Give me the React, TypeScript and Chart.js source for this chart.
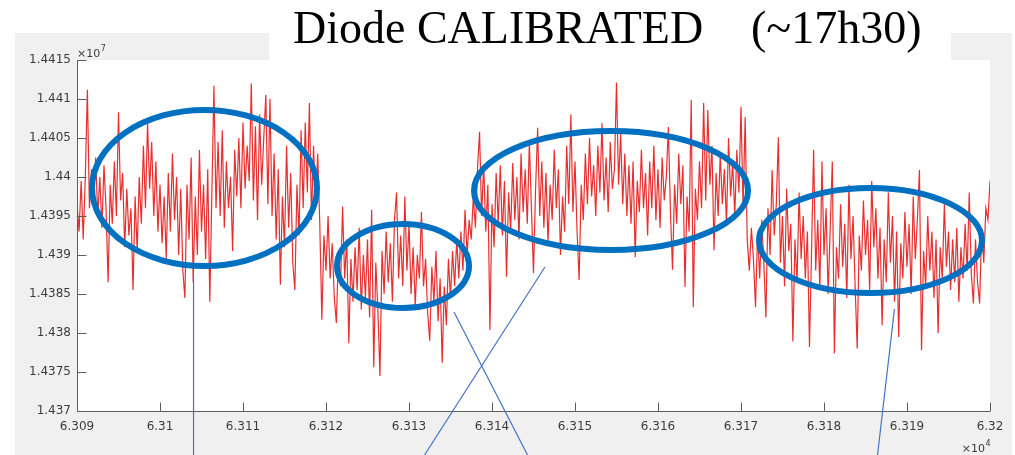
import React, { useEffect, useRef } from 'react';
import { Chart, registerables } from 'chart.js';

Chart.register(...registerables);

// x in units of 10^4, y in units of 10^7 (as on the axes)
const xStart = 6.309;
const xStep = 0.000025;

// first plateau (high level)
const signalA = [
  1.43965, 1.4393, 1.43995, 1.4392, 1.44, 1.44112, 1.4396, 1.4401, 1.43975, 1.44025,
  1.4395, 1.44, 1.43935, 1.44015, 1.4396, 1.43865, 1.4399, 1.4394, 1.4402, 1.4395,
  1.44083, 1.4397, 1.44005, 1.4391, 1.43985, 1.43925, 1.4396, 1.43855, 1.43975, 1.43905,
  1.44, 1.4394, 1.4404, 1.4396, 1.4407, 1.43985, 1.44045, 1.4395, 1.4402, 1.4393,
  1.4399, 1.43915, 1.43975, 1.43895, 1.44005, 1.4393, 1.4403, 1.43945, 1.44, 1.439,
  1.43985, 1.4388, 1.43845, 1.4399, 1.4392, 1.44025, 1.43865, 1.43975, 1.439, 1.44035,
  1.4393, 1.4399, 1.43895, 1.4401, 1.4384, 1.4398, 1.44117, 1.4396, 1.44045, 1.4395,
  1.4406, 1.43935, 1.4402, 1.4396, 1.44, 1.43905, 1.44035, 1.43975, 1.4405, 1.4396,
  1.4407, 1.43985, 1.4404, 1.43995, 1.4412, 1.4397, 1.44065, 1.43945, 1.4408, 1.4399,
  1.4405, 1.44105, 1.43965, 1.441, 1.4395, 1.4403, 1.4392, 1.4401, 1.43862, 1.43975,
  1.4391, 1.4404, 1.43935, 1.44005, 1.4389, 1.43855, 1.4399, 1.43925, 1.4406, 1.4396,
  1.4407, 1.4398, 1.44095, 1.43945, 1.4404, 1.4396, 1.4403,
];

// drop and second plateau (low level)
const signalB = [
  1.4394, 1.43817, 1.43925, 1.4388, 1.4395, 1.4387, 1.43915, 1.43845, 1.43813, 1.43905,
  1.4386, 1.43962, 1.4387, 1.4392, 1.43787, 1.43895, 1.4384, 1.4391, 1.43855, 1.43935,
  1.4383, 1.439, 1.43845, 1.4392, 1.4382, 1.43958, 1.43756, 1.4389, 1.4383, 1.43745,
  1.43905, 1.4385, 1.4393, 1.43865, 1.43915, 1.4384, 1.43945, 1.4398, 1.4387, 1.43925,
  1.4386, 1.43975, 1.4388, 1.4394, 1.4385, 1.4391, 1.43835, 1.439, 1.4387, 1.43955,
  1.4386, 1.43895, 1.43825, 1.4379, 1.43885, 1.4384, 1.43905, 1.43815, 1.4387, 1.43762,
  1.4386, 1.4381, 1.43895, 1.43845, 1.43905, 1.4386, 1.4392, 1.4387, 1.4393, 1.4388,
  1.43958, 1.439, 1.43945,
];

// rise and third plateau (high level)
const signalC = [
  1.4392, 1.43975, 1.43935, 1.4401, 1.44058, 1.4395, 1.44015, 1.4393, 1.4399, 1.43804,
  1.43965, 1.4391, 1.44005, 1.4394, 1.44015, 1.43925, 1.43995, 1.43872, 1.4398, 1.4393,
  1.44018, 1.43945, 1.44, 1.4392, 1.4403, 1.43955, 1.4401, 1.4394, 1.44045, 1.4396,
  1.43877, 1.43985, 1.44063, 1.4395, 1.4402, 1.43935, 1.44005, 1.43915, 1.4399, 1.43945,
  1.44035, 1.4396, 1.4401, 1.439, 1.43975, 1.4393, 1.4404, 1.43965, 1.4408, 1.43955,
  1.4402, 1.4393, 1.43868, 1.4399, 1.43945, 1.4403, 1.43965, 1.4405, 1.43975, 1.44015,
  1.4395, 1.4404, 1.4398, 1.44069, 1.4397, 1.44025, 1.43955, 1.44045, 1.43985, 1.4401,
  1.44121, 1.4399, 1.44055, 1.43965, 1.4403, 1.4395, 1.44015, 1.4394, 1.4402, 1.43897,
  1.43995, 1.43955, 1.44035, 1.4396, 1.44005, 1.43925, 1.4402, 1.4396, 1.4404, 1.43945,
  1.4401, 1.43935, 1.44025, 1.4397, 1.44, 1.44064, 1.43955, 1.43881, 1.4399, 1.4394,
  1.4403, 1.43965, 1.44015, 1.43859, 1.43975, 1.4393, 1.44099, 1.43833, 1.43985, 1.43945,
  1.4402, 1.4396, 1.44095, 1.4397, 1.44086, 1.4399, 1.4404, 1.43906, 1.44005, 1.4395,
  1.4403, 1.43965, 1.4401, 1.4394, 1.4405, 1.43975, 1.4402, 1.4395, 1.44035, 1.4398,
  1.4409, 1.4396,
];

// fourth plateau (low level)
const signalD = [
  1.44077, 1.4392, 1.4388, 1.43935, 1.43895, 1.43833, 1.4393, 1.4387, 1.43945, 1.4389,
  1.4382, 1.4396, 1.439, 1.44009, 1.43925, 1.43965, 1.44051, 1.4389, 1.4395, 1.4386,
  1.43985, 1.43905, 1.4394, 1.43789, 1.4392, 1.43865, 1.4398, 1.43895, 1.4395, 1.4387,
  1.4393, 1.43782, 1.43905, 1.44035, 1.4388, 1.43945, 1.43855, 1.4402, 1.439, 1.4396,
  1.4385, 1.43935, 1.4402, 1.43774, 1.4391, 1.4387, 1.43965, 1.43885, 1.4394, 1.43845,
  1.4399, 1.43895, 1.4395, 1.4386, 1.4378, 1.43925, 1.4388, 1.4397, 1.439, 1.43945,
  1.43855, 1.43995, 1.4391, 1.4396, 1.4387, 1.43935, 1.4381, 1.4392, 1.43865, 1.4398,
  1.4389, 1.4395, 1.4384, 1.4393, 1.43795, 1.43915, 1.4387, 1.43955, 1.43885, 1.4394,
  1.4385, 1.43975, 1.43895, 1.43945, 1.44009, 1.43778, 1.43905, 1.4386, 1.4395, 1.4388,
  1.4393, 1.43845, 1.4392, 1.438, 1.4391, 1.4387, 1.43965, 1.43885, 1.4393, 1.43855,
  1.4392, 1.43865, 1.43935, 1.4384, 1.4391, 1.4387, 1.4394, 1.4388, 1.4398, 1.43875,
  1.43838, 1.4392, 1.43865, 1.43838, 1.43935, 1.4389, 1.4396, 1.43945, 1.43995,
];

const xTickValues = [6.309, 6.31, 6.311, 6.312, 6.313, 6.314, 6.315, 6.316, 6.317, 6.318, 6.319, 6.32];
const xTickLabels = ['6.309', '6.31', '6.311', '6.312', '6.313', '6.314', '6.315', '6.316', '6.317', '6.318', '6.319', '6.32'];
const yTickValues = [1.437, 1.4375, 1.438, 1.4385, 1.439, 1.4395, 1.44, 1.4405, 1.441, 1.4415];
const yTickLabels = ['1.437', '1.4375', '1.438', '1.4385', '1.439', '1.4395', '1.44', '1.4405', '1.441', '1.4415'];

// highlighted regions (ellipses), in data units
const ellipseCx = [6.310536, 6.312928, 6.315434, 6.31856];
const ellipseCy = [1.439859, 1.438859, 1.439827, 1.439186];
const ellipseRx = [0.001355, 0.000795, 0.001651, 0.001343];
const ellipseRy = [0.001, 0.000538, 0.000763, 0.000673];

// callout lines, in data units
const calloutX1 = [6.310404, 6.314638, 6.313542, 6.318849];
const calloutY1 = [1.438744, 1.438846, 1.438269, 1.438308];
const calloutX2 = [6.310404, 6.313187, 6.314428, 6.318645];
const calloutY2 = [1.436436, 1.436436, 1.436436, 1.436436];

const titleMain = 'Diode CALIBRATED';
const titleTime = '(~17h30)';

const yValues = [...signalA, ...signalB, ...signalC, ...signalD];
const points = yValues.map((y, i) => ({ x: xStart + i * xStep, y }));

const decorPlugin = {
  id: 'decor',
  beforeDraw(chart: any) {
    const { ctx, chartArea: ca, width, height } = chart;
    ctx.save();
    ctx.fillStyle = '#ffffff';
    ctx.fillRect(0, 0, width, height);
    ctx.fillStyle = '#f0f0f0';
    ctx.fillRect(15, 33, 997, 422);
    ctx.fillStyle = '#ffffff';
    ctx.fillRect(ca.left, ca.top, ca.right - ca.left, ca.bottom - ca.top);
    ctx.fillRect(269, 0, 682, 60);
    ctx.restore();
  },
  afterDraw(chart: any) {
    const { ctx, chartArea: ca } = chart;
    const xs = chart.scales.x;
    const ys = chart.scales.y;
    ctx.save();
    // axes
    ctx.strokeStyle = '#5e5e5e';
    ctx.lineWidth = 1;
    ctx.beginPath();
    const L = Math.round(ca.left) + 0.5;
    const B = Math.round(ca.bottom) + 0.5;
    ctx.moveTo(L, Math.round(ca.top));
    ctx.lineTo(L, B);
    ctx.lineTo(Math.round(ca.right), B);
    xTickValues.forEach((v) => {
      const px = Math.round(xs.getPixelForValue(v)) + 0.5;
      ctx.moveTo(px, B);
      ctx.lineTo(px, B - 9);
    });
    yTickValues.forEach((v) => {
      const py = Math.round(ys.getPixelForValue(v)) + 0.5;
      ctx.moveTo(L, py);
      ctx.lineTo(L + 9, py);
    });
    ctx.stroke();

    // exponent labels
    ctx.fillStyle = '#3c3c3c';
    ctx.textBaseline = 'alphabetic';
    ctx.textAlign = 'left';
    ctx.font = '11px "DejaVu Sans"';
    ctx.fillText('\u00d710', ca.left, ca.top - 3);
    const w1 = ctx.measureText('\u00d710').width;
    ctx.font = '8px "DejaVu Sans"';
    ctx.fillText('7', ca.left + w1 + 0.5, ca.top - 9);
    ctx.font = '11px "DejaVu Sans"';
    const w2 = ctx.measureText('\u00d710').width;
    ctx.fillText('\u00d710', ca.right - w2 - 5, ca.bottom + 41);
    ctx.font = '8px "DejaVu Sans"';
    ctx.fillText('4', ca.right - 5 + 0.5, ca.bottom + 35);

    // ellipses
    ctx.strokeStyle = '#0070c0';
    ctx.lineWidth = 6;
    ellipseCx.forEach((cx, i) => {
      const px = xs.getPixelForValue(cx);
      const py = ys.getPixelForValue(ellipseCy[i]);
      const rx = xs.getPixelForValue(cx + ellipseRx[i]) - px;
      const ry = py - ys.getPixelForValue(ellipseCy[i] + ellipseRy[i]);
      ctx.beginPath();
      ctx.ellipse(px, py, rx, ry, 0, 0, Math.PI * 2);
      ctx.stroke();
    });

    // callout lines
    ctx.strokeStyle = '#4472c4';
    ctx.lineWidth = 1.2;
    calloutX1.forEach((x1, i) => {
      ctx.beginPath();
      ctx.moveTo(xs.getPixelForValue(x1), ys.getPixelForValue(calloutY1[i]));
      ctx.lineTo(xs.getPixelForValue(calloutX2[i]), ys.getPixelForValue(calloutY2[i]));
      ctx.stroke();
    });

    // title
    ctx.fillStyle = '#000000';
    ctx.font = '46px "Liberation Serif"';
    ctx.textBaseline = 'alphabetic';
    ctx.fillText(titleMain, 293, 43);
    ctx.fillText(titleTime, 751, 43);
    ctx.restore();
  },
};

export default function App() {
  const canvasRef = useRef<HTMLCanvasElement | null>(null);

  useEffect(() => {
    if (!canvasRef.current) return;
    const tickFont = { family: '"DejaVu Sans", sans-serif', size: 12 };
    const chart = new Chart(canvasRef.current, {
      type: 'line',
      data: {
        datasets: [
          {
            data: points,
            borderColor: 'rgba(228, 0, 0, 0.82)',
            borderWidth: 1.2,
            pointRadius: 0,
            tension: 0,
            fill: false,
          },
        ],
      },
      options: {
        animation: false,
        responsive: true,
        maintainAspectRatio: false,
        events: [],
        layout: { padding: { top: 60, right: 25, bottom: 0, left: 0 } },
        plugins: { legend: { display: false }, tooltip: { enabled: false }, title: { display: false } },
        scales: {
          x: {
            type: 'linear',
            min: 6.309,
            max: 6.32,
            afterBuildTicks: (s: any) => {
              s.ticks = xTickValues.map((v) => ({ value: v }));
            },
            afterFit: (s: any) => {
              s.height = 44;
            },
            grid: { display: false, drawTicks: false },
            border: { display: false },
            ticks: {
              autoSkip: false,
              maxRotation: 0,
              padding: 9,
              color: '#3c3c3c',
              font: tickFont,
              callback: (_v: any, i: number) => xTickLabels[i],
            },
          },
          y: {
            type: 'linear',
            min: 1.437,
            max: 1.4415,
            afterBuildTicks: (s: any) => {
              s.ticks = yTickValues.map((v) => ({ value: v }));
            },
            afterFit: (s: any) => {
              s.width = 77;
            },
            grid: { display: false, drawTicks: false },
            border: { display: false },
            ticks: {
              autoSkip: false,
              padding: 6,
              color: '#3c3c3c',
              font: tickFont,
              callback: (_v: any, i: number) => yTickLabels[i],
            },
          },
        },
      },
      plugins: [decorPlugin],
    });
    return () => chart.destroy();
  }, []);

  return (
    <div style={{ position: 'fixed', left: 0, top: 0, width: 1015, height: 455, background: '#ffffff' }}>
      <canvas ref={canvasRef} />
    </div>
  );
}
